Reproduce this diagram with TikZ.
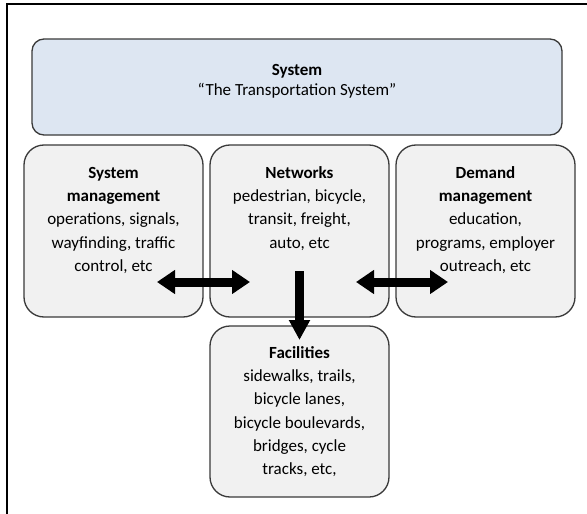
\documentclass[tikz,border=0pt]{standalone}
\usepackage{fontspec}
\setmainfont{Carlito}
\usetikzlibrary{arrows.meta}
\definecolor{boxline}{HTML}{3A3A3A}
\definecolor{sysfill}{HTML}{DDE6F2}
\definecolor{boxfill}{HTML}{F1F1F1}
\tikzset{
  box/.style={draw=boxline, line width=1.3pt, fill=boxfill, rounded corners=20pt, inner sep=0pt},
  sysbox/.style={box, fill=sysfill, rounded corners=12pt},
  txt/.style={align=center, inner sep=0pt, anchor=north, font=\fontsize{17}{23.2}\selectfont},
  systxt/.style={txt, font=\fontsize{17}{20}\selectfont},
  hbig/.style={line width=9pt, {Triangle[width=23pt,length=18pt]}-{Triangle[width=23pt,length=18pt]}},
  vbig/.style={line width=9pt, -{Triangle[width=20pt,length=20pt]}},
}
\begin{document}
\begin{tikzpicture}[x=1pt,y=-1pt]
\useasboundingbox (0,0) rectangle (587,514);
\fill[white] (0,0) rectangle (587,514);
% frame
\draw[line width=1.5pt, black] (7,514) -- (7,4) -- (587,4);
% boxes
\node[sysbox, minimum width=530pt, minimum height=96pt] (sys) at (297,87) {};
\node[box, minimum width=179pt, minimum height=172pt] (sm) at (113.5,231) {};
\node[box, minimum width=179pt, minimum height=172pt] (net) at (299.5,231) {};
\node[box, minimum width=179pt, minimum height=172pt] (dm) at (485.5,231) {};
\node[box, minimum width=179pt, minimum height=171pt] (fac) at (299.5,411.5) {};
% texts
\node[systxt] (systext) at (297,61) {\strut\textbf{System}\\``The Transportation System''};
\node[txt] (smtext) at (113.5,162) {\strut\textbf{System}\\\textbf{management}\\operations, signals,\\wayfinding, traffic\\control, etc};
\node[txt] (nettext) at (299.5,162) {\strut\textbf{Networks}\\pedestrian, bicycle,\\transit, freight,\\auto, etc};
\node[txt] (dmtext) at (485.5,162) {\strut\textbf{Demand}\\\textbf{management}\\education,\\programs, employer\\outreach, etc};
\node[txt] (factext) at (299.5,342) {\strut\textbf{Facilities}\\sidewalks, trails,\\bicycle lanes,\\bicycle boulevards,\\bridges, cycle\\tracks, etc,};
% arrow ends
\coordinate (la) at (157,282);
\coordinate (lb) at (250,282);
\coordinate (ra) at (356,282);
\coordinate (rb) at (448,282);
\coordinate (da) at (299.5,271);
\coordinate (db) at (299.5,340);
\draw[hbig] (la) -- (lb);
\draw[hbig] (ra) -- (rb);
\draw[vbig] (da) -- (db);
\end{tikzpicture}
\end{document}
